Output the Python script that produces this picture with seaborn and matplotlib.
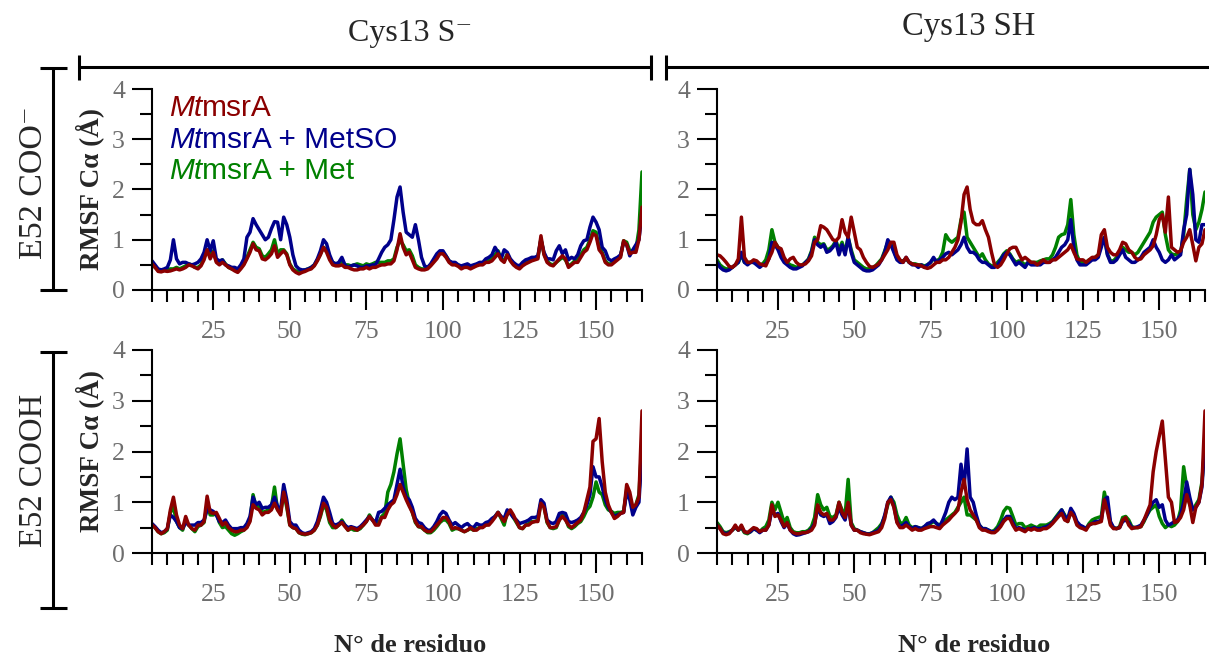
import matplotlib
matplotlib.use("Agg")
import matplotlib.pyplot as plt
from matplotlib.lines import Line2D
from matplotlib.ticker import MultipleLocator
import pandas as pd
import seaborn as sns

# Residue numbers shown on the x axis
residues = list(range(5, 166))

# RMSF of C-alpha (Angstrom), one value per residue 5..165
# --- Cys13 S-  /  E52 COO- ---
tl_apo = [
    0.52, 0.45, 0.37, 0.36, 0.38, 0.37, 0.38, 0.40, 0.42, 0.40,
    0.42, 0.45, 0.50, 0.48, 0.45, 0.42, 0.48, 0.60, 0.80, 0.62,
    0.75, 0.55, 0.50, 0.55, 0.50, 0.45, 0.42, 0.38, 0.35, 0.42,
    0.50, 0.62, 0.75, 0.92, 0.80, 0.78, 0.62, 0.60, 0.65, 0.72,
    0.88, 0.65, 0.72, 0.78, 0.70, 0.50, 0.40, 0.35, 0.32, 0.35,
    0.37, 0.40, 0.42, 0.48, 0.58, 0.70, 0.85, 0.75, 0.60, 0.50,
    0.48, 0.48, 0.50, 0.45, 0.45, 0.42, 0.40, 0.40, 0.42, 0.42,
    0.45, 0.42, 0.45, 0.45, 0.48, 0.50, 0.50, 0.52, 0.52, 0.58,
    0.80, 1.12, 0.85, 0.70, 0.75, 0.60, 0.45, 0.42, 0.40, 0.40,
    0.42, 0.48, 0.55, 0.62, 0.72, 0.72, 0.65, 0.55, 0.50, 0.50,
    0.47, 0.42, 0.45, 0.45, 0.42, 0.45, 0.48, 0.50, 0.50, 0.55,
    0.55, 0.58, 0.65, 0.72, 0.60, 0.55, 0.70, 0.58, 0.50, 0.45,
    0.42, 0.48, 0.52, 0.55, 0.58, 0.60, 0.62, 1.08, 0.70, 0.55,
    0.50, 0.48, 0.55, 0.62, 0.68, 0.62, 0.45, 0.50, 0.55, 0.55,
    0.65, 0.75, 0.80, 0.95, 1.12, 1.08, 0.80, 0.72, 0.55, 0.50,
    0.50, 0.55, 0.60, 0.65, 0.98, 0.90, 0.72, 0.75, 0.75, 1.00,
    1.65,
]
tl_metso = [
    0.58, 0.50, 0.42, 0.40, 0.42, 0.45, 0.60, 1.00, 0.62, 0.52,
    0.55, 0.55, 0.52, 0.50, 0.52, 0.55, 0.62, 0.75, 1.00, 0.78,
    0.98, 0.62, 0.58, 0.60, 0.50, 0.48, 0.45, 0.45, 0.42, 0.50,
    0.62, 1.05, 1.15, 1.42, 1.30, 1.20, 1.10, 1.00, 1.05, 1.22,
    1.36, 1.35, 1.00, 1.45, 1.30, 1.05, 0.70, 0.48, 0.42, 0.40,
    0.40, 0.42, 0.45, 0.50, 0.62, 0.78, 1.00, 0.92, 0.70, 0.55,
    0.52, 0.55, 0.65, 0.50, 0.45, 0.48, 0.50, 0.48, 0.45, 0.45,
    0.48, 0.48, 0.50, 0.50, 0.62, 0.75, 0.85, 0.90, 1.00, 1.40,
    1.85, 2.05, 1.55, 1.15, 1.10, 1.05, 1.30, 1.00, 0.65, 0.48,
    0.45, 0.52, 0.62, 0.72, 0.78, 0.78, 0.68, 0.58, 0.55, 0.55,
    0.50, 0.48, 0.50, 0.52, 0.48, 0.50, 0.52, 0.55, 0.55, 0.62,
    0.65, 0.70, 0.85, 0.75, 0.62, 0.80, 0.75, 0.62, 0.55, 0.50,
    0.48, 0.55, 0.60, 0.62, 0.65, 0.65, 0.68, 1.00, 0.75, 0.62,
    0.62, 0.60, 0.78, 0.88, 0.72, 0.80, 0.60, 0.65, 0.62, 0.70,
    0.88, 0.98, 1.00, 1.25, 1.45, 1.35, 1.20, 0.85, 0.78, 0.62,
    0.58, 0.62, 0.65, 0.70, 0.95, 0.90, 0.68, 0.80, 0.90, 1.00,
    1.55,
]
tl_met = [
    0.50, 0.45, 0.40, 0.40, 0.40, 0.40, 0.42, 0.42, 0.45, 0.42,
    0.45, 0.48, 0.52, 0.50, 0.45, 0.45, 0.50, 0.65, 0.80, 0.70,
    0.78, 0.58, 0.55, 0.60, 0.52, 0.45, 0.42, 0.40, 0.40, 0.45,
    0.52, 0.65, 0.80, 0.95, 0.85, 0.82, 0.68, 0.65, 0.72, 0.80,
    1.00, 0.72, 0.80, 0.80, 0.72, 0.52, 0.42, 0.38, 0.36, 0.38,
    0.40, 0.42, 0.45, 0.50, 0.60, 0.72, 0.85, 0.80, 0.65, 0.55,
    0.52, 0.52, 0.55, 0.50, 0.50, 0.48, 0.50, 0.52, 0.50, 0.48,
    0.52, 0.50, 0.52, 0.55, 0.55, 0.55, 0.55, 0.58, 0.58, 0.62,
    0.85, 0.98, 0.90, 0.78, 0.80, 0.68, 0.50, 0.45, 0.42, 0.42,
    0.45, 0.50, 0.58, 0.68, 0.75, 0.75, 0.68, 0.58, 0.52, 0.52,
    0.50, 0.45, 0.48, 0.48, 0.45, 0.48, 0.50, 0.52, 0.52, 0.58,
    0.60, 0.62, 0.70, 0.78, 0.62, 0.58, 0.72, 0.60, 0.52, 0.48,
    0.45, 0.50, 0.55, 0.58, 0.60, 0.62, 0.65, 1.02, 0.72, 0.58,
    0.52, 0.50, 0.55, 0.60, 0.65, 0.60, 0.48, 0.52, 0.58, 0.60,
    0.70, 0.80, 0.85, 1.00, 1.18, 1.15, 0.85, 0.75, 0.58, 0.52,
    0.52, 0.58, 0.62, 0.68, 0.98, 0.95, 0.78, 0.78, 0.80, 1.20,
    2.35,
]

# --- Cys13 SH  /  E52 COO- ---
tr_apo = [
    0.70, 0.68, 0.62, 0.55, 0.47, 0.45, 0.50, 0.62, 1.45, 0.65,
    0.55, 0.55, 0.60, 0.58, 0.52, 0.50, 0.48, 0.62, 0.75, 0.95,
    0.85, 0.82, 0.65, 0.55, 0.62, 0.65, 0.55, 0.50, 0.50, 0.52,
    0.58, 0.68, 0.95, 1.00, 1.28, 1.25, 1.20, 1.10, 1.00, 0.98,
    1.05, 1.40, 1.15, 1.05, 1.45, 1.15, 0.85, 0.80, 0.65, 0.55,
    0.47, 0.45, 0.48, 0.52, 0.60, 0.70, 0.80, 0.95, 0.95, 0.70,
    0.60, 0.55, 0.65, 0.55, 0.52, 0.50, 0.50, 0.48, 0.45, 0.43,
    0.45, 0.50, 0.55, 0.55, 0.60, 0.60, 0.65, 0.75, 0.85, 1.00,
    1.35, 1.90, 2.05, 1.60, 1.35, 1.30, 1.30, 1.38, 1.20, 1.05,
    0.75, 0.50, 0.45, 0.50, 0.60, 0.72, 0.82, 0.85, 0.85, 0.72,
    0.60, 0.65, 0.60, 0.55, 0.55, 0.50, 0.55, 0.60, 0.55, 0.55,
    0.60, 0.60, 0.65, 0.70, 0.75, 0.80, 0.90, 0.75, 0.62, 0.60,
    0.60, 0.55, 0.60, 0.65, 0.65, 0.70, 1.10, 1.20, 0.85, 0.75,
    0.70, 0.70, 0.80, 0.95, 0.92, 0.80, 0.75, 0.65, 0.60, 0.62,
    0.70, 0.75, 0.80, 0.88, 1.10, 1.40, 1.50, 1.15, 1.85, 0.85,
    0.80, 0.75, 0.78, 0.95, 1.05, 1.20, 0.90, 0.58, 0.85, 0.92,
    1.20,
]
tr_metso = [
    0.55, 0.45, 0.40, 0.38, 0.40, 0.45, 0.50, 0.55, 0.75, 0.55,
    0.50, 0.55, 0.55, 0.50, 0.45, 0.50, 0.52, 0.62, 0.95, 0.90,
    0.80, 0.65, 0.55, 0.50, 0.45, 0.42, 0.42, 0.45, 0.48, 0.55,
    0.60, 0.75, 1.00, 0.90, 0.85, 0.90, 0.75, 0.78, 0.85, 0.95,
    0.70, 0.90, 0.70, 1.05, 0.75, 0.55, 0.50, 0.45, 0.40, 0.38,
    0.38, 0.40, 0.45, 0.50, 0.60, 0.75, 1.00, 0.90, 0.75, 0.60,
    0.55, 0.55, 0.65, 0.55, 0.50, 0.50, 0.45, 0.50, 0.45, 0.50,
    0.55, 0.65, 0.55, 0.60, 0.65, 0.72, 0.75, 0.70, 0.75, 0.80,
    0.90, 1.05, 0.85, 0.75, 0.75, 0.70, 0.60, 0.55, 0.55, 0.50,
    0.45, 0.45, 0.50, 0.60, 0.70, 0.75, 0.70, 0.60, 0.50, 0.55,
    0.50, 0.45, 0.55, 0.50, 0.50, 0.50, 0.50, 0.55, 0.55, 0.55,
    0.60, 0.65, 0.75, 0.85, 0.90, 1.00, 1.40, 0.85, 0.60, 0.50,
    0.50, 0.50, 0.55, 0.60, 0.60, 0.65, 0.85, 1.05, 0.70, 0.55,
    0.55, 0.60, 0.70, 0.80, 0.65, 0.60, 0.55, 0.55, 0.60, 0.65,
    0.75, 0.80, 0.85, 1.00, 0.85, 0.75, 0.60, 0.55, 0.60, 0.70,
    0.60, 0.65, 0.70, 1.20, 1.50, 2.40, 1.90, 1.00, 0.95, 1.30,
    1.30,
]
tr_met = [
    0.60, 0.50, 0.45, 0.42, 0.42, 0.45, 0.50, 0.55, 0.70, 0.55,
    0.55, 0.55, 0.55, 0.52, 0.50, 0.52, 0.60, 0.80, 1.20, 0.95,
    0.85, 0.70, 0.60, 0.55, 0.50, 0.48, 0.45, 0.48, 0.50, 0.55,
    0.62, 0.78, 1.05, 0.95, 0.90, 0.92, 0.80, 0.82, 0.88, 0.98,
    0.80, 0.95, 0.75, 1.05, 0.80, 0.60, 0.55, 0.50, 0.45, 0.42,
    0.42, 0.45, 0.48, 0.55, 0.62, 0.78, 0.95, 0.92, 0.78, 0.62,
    0.58, 0.58, 0.62, 0.55, 0.52, 0.52, 0.50, 0.50, 0.48, 0.50,
    0.55, 0.62, 0.58, 0.62, 0.75, 1.10, 1.00, 0.95, 1.00, 1.05,
    1.40, 1.55, 1.05, 0.95, 0.85, 0.75, 0.65, 0.72, 0.60, 0.52,
    0.48, 0.48, 0.55, 0.62, 0.72, 0.78, 0.72, 0.62, 0.55, 0.58,
    0.55, 0.50, 0.55, 0.55, 0.55, 0.55, 0.58, 0.60, 0.62, 0.62,
    0.70, 0.85, 1.05, 1.10, 1.12, 1.30, 1.80, 1.10, 0.70, 0.55,
    0.55, 0.55, 0.60, 0.62, 0.65, 0.70, 0.90, 1.05, 0.72, 0.58,
    0.58, 0.65, 0.75, 0.85, 0.80, 0.75, 0.75, 0.70, 0.75, 0.85,
    0.95, 1.05, 1.15, 1.35, 1.45, 1.50, 1.55, 1.10, 0.80, 0.72,
    0.70, 0.72, 0.75, 1.10, 1.80, 2.40, 1.50, 1.20, 1.35, 1.60,
    1.95,
]

# --- Cys13 S-  /  E52 COOH ---
bl_apo = [
    0.55, 0.50, 0.42, 0.38, 0.42, 0.48, 0.85, 1.10, 0.75, 0.55,
    0.48, 0.72, 0.55, 0.48, 0.45, 0.55, 0.55, 0.62, 1.12, 0.80,
    0.78, 0.80, 0.68, 0.55, 0.60, 0.50, 0.45, 0.42, 0.42, 0.45,
    0.45, 0.50, 0.62, 0.95, 0.88, 0.85, 0.75, 0.80, 0.80, 0.85,
    0.98, 0.85, 0.75, 1.20, 0.95, 0.55, 0.50, 0.48, 0.40, 0.38,
    0.37, 0.38, 0.40, 0.45, 0.55, 0.75, 0.98, 0.90, 0.65, 0.55,
    0.50, 0.55, 0.60, 0.52, 0.45, 0.50, 0.48, 0.45, 0.50, 0.55,
    0.62, 0.72, 0.65, 0.55, 0.55, 0.70, 0.70, 0.85, 0.95, 1.00,
    1.15, 1.35, 1.20, 1.05, 0.92, 0.80, 0.62, 0.52, 0.52, 0.45,
    0.42, 0.42, 0.48, 0.55, 0.62, 0.70, 0.70, 0.62, 0.48, 0.50,
    0.48, 0.45, 0.42, 0.45, 0.50, 0.45, 0.45, 0.50, 0.50, 0.55,
    0.55, 0.62, 0.70, 0.80, 0.70, 0.62, 0.75, 0.85, 0.75, 0.62,
    0.50, 0.48, 0.55, 0.55, 0.60, 0.62, 0.62, 0.98, 0.90, 0.62,
    0.50, 0.50, 0.52, 0.65, 0.72, 0.65, 0.55, 0.50, 0.55, 0.60,
    0.65, 0.80, 1.05, 1.30, 2.20, 2.25, 2.65, 1.80, 1.20, 0.95,
    0.80, 0.68, 0.72, 0.78, 0.80, 1.35, 1.20, 0.90, 0.95, 1.10,
    2.80,
]
bl_metso = [
    0.58, 0.52, 0.45, 0.40, 0.42, 0.48, 0.75, 0.70, 0.62, 0.50,
    0.48, 0.60, 0.55, 0.55, 0.55, 0.60, 0.60, 0.65, 0.85, 0.85,
    0.82, 0.75, 0.62, 0.60, 0.65, 0.55, 0.48, 0.48, 0.48, 0.50,
    0.50, 0.58, 0.72, 1.10, 0.95, 1.00, 0.88, 0.90, 0.90, 0.95,
    1.10, 0.92, 0.85, 1.35, 1.05, 0.62, 0.55, 0.55, 0.45, 0.40,
    0.38, 0.40, 0.42, 0.48, 0.62, 0.85, 1.10, 1.00, 0.80, 0.58,
    0.55, 0.58, 0.62, 0.55, 0.50, 0.52, 0.50, 0.48, 0.52, 0.58,
    0.65, 0.72, 0.65, 0.60, 0.80, 0.82, 0.88, 0.95, 1.00, 1.05,
    1.35, 1.65, 1.30, 1.10, 1.05, 0.90, 0.68, 0.60, 0.58, 0.50,
    0.45, 0.45, 0.52, 0.62, 0.75, 0.82, 0.78, 0.65, 0.55, 0.60,
    0.55, 0.50, 0.55, 0.58, 0.52, 0.50, 0.58, 0.55, 0.55, 0.60,
    0.62, 0.68, 0.72, 0.80, 0.72, 0.68, 0.85, 0.78, 0.70, 0.65,
    0.58, 0.60, 0.62, 0.65, 0.70, 0.70, 0.72, 1.05, 0.98, 0.65,
    0.60, 0.58, 0.62, 0.78, 0.80, 0.78, 0.62, 0.60, 0.62, 0.65,
    0.70, 0.80, 0.95, 1.15, 1.70, 1.50, 1.50, 1.30, 1.05, 0.90,
    0.80, 0.72, 0.75, 0.78, 0.80, 1.20, 1.05, 0.75, 0.90, 1.00,
    2.00,
]
bl_met = [
    0.55, 0.50, 0.42, 0.38, 0.40, 0.45, 0.80, 0.90, 0.62, 0.50,
    0.45, 0.65, 0.55, 0.48, 0.42, 0.52, 0.55, 0.60, 0.95, 0.75,
    0.75, 0.78, 0.60, 0.50, 0.52, 0.45, 0.38, 0.35, 0.38, 0.42,
    0.45, 0.52, 0.65, 1.15, 0.90, 0.92, 0.80, 0.82, 0.85, 0.90,
    1.30, 0.85, 0.80, 1.20, 0.90, 0.55, 0.50, 0.48, 0.40, 0.37,
    0.36, 0.38, 0.40, 0.45, 0.55, 0.72, 0.95, 0.85, 0.60, 0.50,
    0.50, 0.55, 0.65, 0.55, 0.45, 0.48, 0.45, 0.45, 0.48, 0.55,
    0.62, 0.75, 0.65, 0.58, 0.60, 0.72, 0.78, 1.20, 1.35, 1.60,
    1.95, 2.25, 1.75, 1.25, 0.98, 0.80, 0.60, 0.52, 0.50, 0.45,
    0.40, 0.40, 0.45, 0.52, 0.60, 0.65, 0.65, 0.58, 0.45, 0.48,
    0.48, 0.45, 0.42, 0.45, 0.48, 0.45, 0.48, 0.50, 0.52, 0.55,
    0.58, 0.65, 0.72, 0.80, 0.68, 0.55, 0.80, 0.82, 0.70, 0.60,
    0.50, 0.48, 0.55, 0.58, 0.62, 0.62, 0.65, 1.00, 0.92, 0.60,
    0.50, 0.48, 0.50, 0.65, 0.75, 0.68, 0.52, 0.48, 0.52, 0.58,
    0.62, 0.72, 0.85, 0.92, 1.10, 1.40, 1.20, 1.15, 0.95, 0.85,
    0.82, 0.78, 0.80, 0.80, 0.82, 1.25, 1.10, 0.85, 0.95, 1.15,
    2.20,
]

# --- Cys13 SH  /  E52 COOH ---
br_apo = [
    0.55, 0.48, 0.38, 0.36, 0.38, 0.45, 0.55, 0.45, 0.55, 0.42,
    0.40, 0.45, 0.50, 0.48, 0.42, 0.45, 0.45, 0.55, 0.95, 0.72,
    0.75, 0.65, 0.52, 0.60, 0.45, 0.40, 0.38, 0.38, 0.40, 0.40,
    0.42, 0.45, 0.55, 0.95, 0.80, 0.75, 0.78, 0.65, 0.65, 0.72,
    1.00, 0.80, 0.70, 1.00, 0.55, 0.45, 0.45, 0.40, 0.38, 0.37,
    0.36, 0.38, 0.40, 0.42, 0.50, 0.68, 1.00, 1.05, 0.90, 0.60,
    0.50, 0.50, 0.55, 0.50, 0.45, 0.48, 0.45, 0.45, 0.48, 0.50,
    0.52, 0.52, 0.50, 0.48, 0.55, 0.60, 0.65, 0.72, 0.78, 0.85,
    1.20, 1.45, 1.05, 0.85, 0.75, 0.65, 0.50, 0.45, 0.45, 0.42,
    0.40, 0.40, 0.45, 0.52, 0.62, 0.68, 0.68, 0.55, 0.45, 0.48,
    0.45, 0.42, 0.48, 0.45, 0.48, 0.45, 0.45, 0.48, 0.48, 0.52,
    0.58, 0.65, 0.72, 0.78, 0.65, 0.62, 0.80, 0.72, 0.55, 0.50,
    0.48, 0.45, 0.55, 0.58, 0.58, 0.60, 0.62, 1.05, 0.82, 0.55,
    0.48, 0.48, 0.50, 0.65, 0.70, 0.55, 0.48, 0.50, 0.50, 0.52,
    0.65, 0.80, 0.95, 1.60, 2.00, 2.30, 2.60, 1.85, 1.10, 1.00,
    0.60, 0.62, 0.70, 0.85, 1.15, 0.95, 0.60, 0.90, 1.00, 1.35,
    2.80,
]
br_metso = [
    0.55, 0.48, 0.40, 0.38, 0.40, 0.45, 0.52, 0.45, 0.52, 0.42,
    0.40, 0.42, 0.48, 0.45, 0.40, 0.45, 0.45, 0.55, 0.85, 0.75,
    0.78, 0.62, 0.50, 0.58, 0.45, 0.38, 0.35, 0.36, 0.38, 0.40,
    0.42, 0.48, 0.58, 0.90, 0.75, 0.72, 0.75, 0.58, 0.62, 0.70,
    0.90, 0.75, 0.65, 0.95, 0.55, 0.45, 0.45, 0.42, 0.40, 0.38,
    0.37, 0.40, 0.42, 0.45, 0.55, 0.75, 1.00, 1.10, 0.92, 0.62,
    0.52, 0.55, 0.60, 0.52, 0.48, 0.52, 0.50, 0.48, 0.52, 0.58,
    0.60, 0.65, 0.58, 0.52, 0.65, 0.80, 1.00, 1.10, 1.05, 1.10,
    1.75, 1.30, 2.05, 1.10, 1.00, 0.75, 0.55, 0.48, 0.48, 0.45,
    0.42, 0.42, 0.48, 0.55, 0.65, 0.72, 0.72, 0.60, 0.48, 0.50,
    0.48, 0.45, 0.48, 0.48, 0.50, 0.48, 0.48, 0.50, 0.52, 0.55,
    0.60, 0.68, 0.75, 0.85, 0.72, 0.68, 0.88, 0.78, 0.62, 0.55,
    0.52, 0.48, 0.55, 0.58, 0.62, 0.62, 0.65, 1.05, 1.10, 0.62,
    0.50, 0.48, 0.50, 0.62, 0.65, 0.60, 0.50, 0.50, 0.52, 0.55,
    0.65, 0.75, 0.90, 1.00, 1.05, 0.90, 0.95, 0.65, 0.55, 0.58,
    0.62, 0.65, 0.75, 1.00, 1.40, 1.10, 0.85, 0.90, 1.00, 1.30,
    2.20,
]
br_met = [
    0.60, 0.52, 0.42, 0.40, 0.42, 0.45, 0.50, 0.45, 0.50, 0.40,
    0.38, 0.42, 0.48, 0.45, 0.42, 0.48, 0.52, 0.65, 1.00, 0.85,
    1.00, 0.80, 0.60, 0.70, 0.50, 0.42, 0.40, 0.40, 0.42, 0.42,
    0.45, 0.52, 0.70, 1.15, 0.95, 0.85, 0.90, 0.72, 0.70, 0.75,
    1.00, 0.85, 0.75, 1.45, 0.60, 0.48, 0.45, 0.42, 0.40, 0.38,
    0.38, 0.40, 0.45, 0.50, 0.58, 0.72, 0.95, 1.10, 1.00, 0.75,
    0.60, 0.58, 0.70, 0.55, 0.50, 0.52, 0.50, 0.48, 0.52, 0.55,
    0.58, 0.62, 0.58, 0.55, 0.60, 0.65, 0.70, 0.75, 0.80, 0.90,
    1.00, 1.10, 0.75, 0.75, 0.70, 0.65, 0.55, 0.48, 0.48, 0.45,
    0.42, 0.45, 0.52, 0.65, 0.82, 0.90, 0.88, 0.72, 0.55, 0.58,
    0.58, 0.50, 0.52, 0.55, 0.52, 0.50, 0.55, 0.55, 0.55, 0.58,
    0.62, 0.70, 0.78, 0.85, 0.75, 0.62, 0.85, 0.75, 0.58, 0.52,
    0.50, 0.48, 0.58, 0.65, 0.68, 0.70, 0.72, 1.20, 0.90, 0.58,
    0.50, 0.48, 0.52, 0.70, 0.72, 0.65, 0.52, 0.50, 0.50, 0.52,
    0.62, 0.75, 0.85, 0.90, 0.95, 0.72, 0.58, 0.50, 0.55, 0.52,
    0.55, 0.62, 0.85, 1.70, 1.30, 0.95, 0.85, 0.95, 1.05, 1.40,
    2.20,
]

systems = ["MtmsrA", "MtmsrA + MetSO", "MtmsrA + Met"]
palette = {"MtmsrA": "#8b0000", "MtmsrA + MetSO": "#00008b", "MtmsrA + Met": "#008000"}
draw_order = ["MtmsrA + Met", "MtmsrA + MetSO", "MtmsrA"]

panels = {
    (0, 0): (tl_apo, tl_metso, tl_met),
    (0, 1): (tr_apo, tr_metso, tr_met),
    (1, 0): (bl_apo, bl_metso, bl_met),
    (1, 1): (br_apo, br_metso, br_met),
}

col_titles = ["Cys13 S\u207b", "Cys13 SH"]
row_titles = ["E52 COO\u207b", "E52 COOH"]

sns.set_theme(style="ticks")
serif = ["Liberation Serif", "DejaVu Serif"]
sans = ["Liberation Sans", "DejaVu Sans"]
plt.rcParams["font.family"] = serif

W, H = 1209, 659
fig = plt.figure(figsize=(W / 100, H / 100), dpi=100)
fig.patch.set_facecolor("white")

# pixel boxes (left, top, right, bottom) of each panel
col_x = [(152, 642), (717, 1205)]
row_y = [(89, 290), (350, 553)]

tick_grey = "#6e6e6e"
axes = {}
for (r, c), (apo, metso, met) in panels.items():
    l, rgt = col_x[c]
    t, b = row_y[r]
    ax = fig.add_axes([l / W, 1 - b / H, (rgt - l) / W, (b - t) / H])
    frames = []
    for name, vals in zip(systems, (apo, metso, met)):
        frames.append(pd.DataFrame({"residuo": residues, "rmsf": vals, "sistema": name}))
    df = pd.concat(frames, ignore_index=True)
    sns.lineplot(data=df, x="residuo", y="rmsf", hue="sistema", hue_order=draw_order,
                 palette=palette, linewidth=2.5, legend=False, ax=ax,
                 estimator=None, errorbar=None)
    ax.set_xlim(5, 165)
    ax.set_ylim(0, 4)
    ax.xaxis.set_minor_locator(MultipleLocator(5))
    ax.yaxis.set_major_locator(MultipleLocator(1))
    ax.yaxis.set_minor_locator(MultipleLocator(0.5))
    ax.set_xticks([25, 50, 75, 100, 125, 150])
    ax.tick_params(which="major", direction="out", length=14.5, width=1.5,
                   color="black", labelcolor=tick_grey, labelsize=18.5)
    ax.tick_params(which="minor", direction="out", length=8.5, width=1.5, color="black")
    ax.tick_params(axis="x", which="major", pad=7.5)
    ax.tick_params(axis="y", which="major", pad=5)
    for side in ("top", "right"):
        ax.spines[side].set_visible(False)
    for side in ("left", "bottom"):
        ax.spines[side].set_linewidth(1.5)
        ax.spines[side].set_color("black")
    ax.set_facecolor("white")
    ax.set_xlabel("")
    ax.set_ylabel("")
    if c == 0:
        ax.set_ylabel("RMSF C\u03b1 (\u00c5)", fontsize=19.5, fontweight="bold")
        ax.yaxis.set_label_coords(-0.097, 0.5)
    if r == 1:
        ax.set_xlabel("N\u00b0 de residuo", fontsize=19, fontweight="bold")
        ax.xaxis.set_label_coords(0.527, -0.40)
    axes[(r, c)] = ax

# legend as coloured text in the first panel
leg_ax = axes[(0, 0)]
for i, name in enumerate(systems):
    y = 0.905 - i * 0.157
    head = leg_ax.text(0.035, y, "Mt", transform=leg_ax.transAxes, fontsize=21.5,
                       fontstyle="italic", family=sans, color=palette[name], va="center")
    leg_ax.annotate(name[2:], xy=(1, 0), xycoords=head, va="bottom", ha="left",
                    fontsize=21.5, family=sans, color=palette[name])

# column titles and row titles
fig.text(410 / W, 1 - 34 / H, col_titles[0], fontsize=23, ha="center", va="center")
fig.text(969 / W, 1 - 27 / H, col_titles[1], fontsize=23.5, ha="center", va="center")
fig.text(34 / W, 1 - 183 / H, row_titles[0], fontsize=24.5, ha="center", va="center", rotation=90)
fig.text(34 / W, 1 - 470 / H, row_titles[1], fontsize=23.5, ha="center", va="center", rotation=90)


def seg(x0, y0, x1, y1):
    fig.add_artist(Line2D([x0 / W, x1 / W], [1 - y0 / H, 1 - y1 / H],
                          transform=fig.transFigure, color="black", linewidth=2.2,
                          solid_capstyle="butt"))


# column brackets
seg(79, 67, 651, 67)
seg(79, 55, 79, 80)
seg(651, 55, 651, 80)
seg(666, 55, 666, 80)
seg(666, 67, 1209, 67)
# row brackets
for top, bot in [(68, 290), (352, 608)]:
    seg(53, top, 53, bot)
    seg(40, top, 67, top)
    seg(40, bot, 67, bot)

fig.savefig("out.png", dpi=100, facecolor="white")
